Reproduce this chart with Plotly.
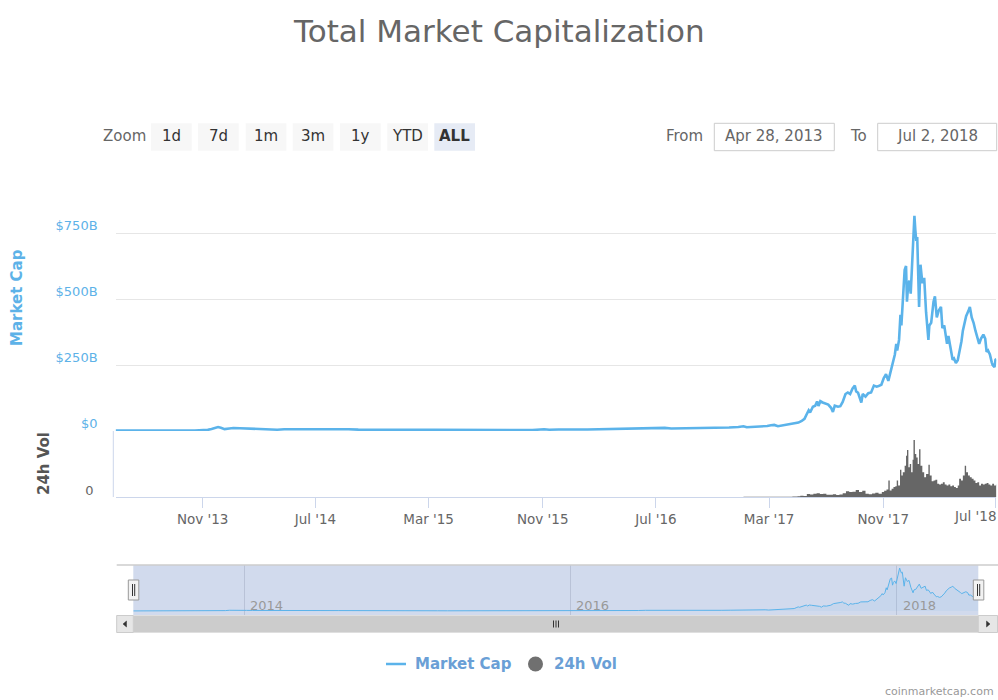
import plotly.graph_objects as go

W, H = 998, 700
FONT = "DejaVu Sans"
BLUE = "#5bb3ea"
BLUE_TXT = "#5db2e8"
GRAY = "#666666"
LEGEND_TXT = "#6a9fd6"


def px(x):
    return x / W


def py(y):
    return 1 - y / H


# ---------------- data ----------------
mcap_dates = [
    "2013-04-28", "2013-05-15", "2013-06-01", "2013-06-20", "2013-07-05", "2013-07-25",
    "2013-08-15", "2013-09-05", "2013-09-25", "2013-10-15", "2013-11-01", "2013-11-12",
    "2013-11-20", "2013-11-29", "2013-12-04", "2013-12-10", "2013-12-18", "2013-12-28",
    "2014-01-06", "2014-01-20", "2014-02-05", "2014-02-25", "2014-03-10", "2014-03-28",
    "2014-04-10", "2014-04-25", "2014-05-15", "2014-06-03", "2014-06-20", "2014-07-10",
    "2014-08-01", "2014-08-20", "2014-09-10", "2014-10-01", "2014-10-20", "2014-11-10",
    "2014-11-25", "2014-12-15", "2015-01-01", "2015-01-15", "2015-02-01", "2015-02-20",
    "2015-03-10", "2015-04-01", "2015-04-20", "2015-05-15", "2015-06-10", "2015-07-10",
    "2015-08-01", "2015-08-25", "2015-09-15", "2015-10-10", "2015-11-04", "2015-11-15",
    "2015-12-05", "2015-12-25", "2016-01-15", "2016-02-05", "2016-02-25", "2016-03-15",
    "2016-04-05", "2016-04-25", "2016-05-15", "2016-06-01", "2016-06-17", "2016-07-01",
    "2016-07-20", "2016-08-03", "2016-08-25", "2016-09-15", "2016-10-05", "2016-10-25",
    "2016-11-15", "2016-12-05", "2016-12-25", "2017-01-05", "2017-01-12", "2017-01-25",
    "2017-02-10", "2017-02-25", "2017-03-05", "2017-03-12", "2017-03-20", "2017-03-28",
    "2017-04-05", "2017-04-15", "2017-04-25", "2017-05-03", "2017-05-10", "2017-05-16",
    "2017-05-22", "2017-05-25", "2017-05-28", "2017-06-03", "2017-06-08", "2017-06-12",
    "2017-06-15", "2017-06-19", "2017-06-24", "2017-06-30", "2017-07-06", "2017-07-12",
    "2017-07-16", "2017-07-20", "2017-07-27", "2017-08-01", "2017-08-06", "2017-08-12",
    "2017-08-17", "2017-08-22", "2017-08-27", "2017-09-01", "2017-09-04", "2017-09-08",
    "2017-09-15", "2017-09-18", "2017-09-24", "2017-09-30", "2017-10-06", "2017-10-12",
    "2017-10-18", "2017-10-22", "2017-10-28", "2017-11-02", "2017-11-07", "2017-11-12",
    "2017-11-17", "2017-11-22", "2017-11-26", "2017-11-29", "2017-12-01", "2017-12-05",
    "2017-12-08", "2017-12-10", "2017-12-13", "2017-12-17", "2017-12-20", "2017-12-22",
    "2017-12-24", "2017-12-27", "2017-12-30", "2018-01-03", "2018-01-07", "2018-01-09",
    "2018-01-11", "2018-01-13", "2018-01-17", "2018-01-20", "2018-01-24", "2018-01-28",
    "2018-02-01", "2018-02-06", "2018-02-08", "2018-02-12", "2018-02-17", "2018-02-20",
    "2018-02-24", "2018-02-28", "2018-03-05", "2018-03-08", "2018-03-12", "2018-03-18",
    "2018-03-21", "2018-03-25", "2018-03-30", "2018-04-02", "2018-04-06", "2018-04-10",
    "2018-04-14", "2018-04-18", "2018-04-21", "2018-04-25", "2018-04-28", "2018-05-03",
    "2018-05-06", "2018-05-10", "2018-05-14", "2018-05-18", "2018-05-23", "2018-05-26",
    "2018-05-30", "2018-06-04", "2018-06-08", "2018-06-11", "2018-06-14", "2018-06-18",
    "2018-06-22", "2018-06-24", "2018-06-28", "2018-06-30", "2018-07-02",
]
mcap_values = [
    1.6, 1.3, 1.4, 1.3, 0.9, 1.1,
    1.3, 1.5, 1.6, 2.0, 2.6, 4.3,
    7.5, 13.5, 15.0, 12.5, 7.0, 9.5,
    11.5, 10.5, 9.0, 7.0, 8.5, 6.5,
    5.0, 6.5, 6.5, 8.6, 8.0, 8.3,
    8.0, 6.5, 6.6, 5.3, 5.3, 5.0,
    5.4, 4.7, 4.4, 3.0, 3.2, 3.5,
    4.2, 3.7, 3.3, 3.5, 3.4, 4.5,
    4.3, 3.4, 3.5, 3.7, 6.7, 5.0,
    5.6, 6.9, 5.9, 5.9, 6.9, 7.7,
    7.3, 8.0, 8.8, 9.4, 12.8, 11.7,
    11.7, 9.7, 10.0, 10.3, 10.8, 11.7,
    12.1, 13.1, 15.0, 17.7, 14.0, 15.2,
    16.7, 19.0, 22.0, 23.0, 18.0, 20.5,
    22.7, 24.5, 28.0, 32.0, 38.0, 46.0,
    68.0, 78.0, 70.0, 92.0, 96.0, 112.0,
    95.0, 113.0, 108.0, 104.0, 100.0, 88.0,
    72.0, 96.0, 92.0, 94.0, 110.0, 140.0,
    146.0, 140.0, 160.0, 172.0, 150.0, 145.0,
    108.0, 140.0, 130.0, 143.0, 146.0, 172.0,
    168.0, 170.0, 175.0, 200.0, 215.0, 190.0,
    225.0, 260.0, 290.0, 330.0, 305.0, 345.0,
    440.0, 400.0, 510.0, 610.0, 625.0, 490.0,
    540.0, 570.0, 520.0, 690.0, 815.0, 760.0,
    720.0, 735.0, 470.0, 630.0, 560.0, 580.0,
    450.0, 345.0, 400.0, 410.0, 490.0, 510.0,
    430.0, 455.0, 470.0, 390.0, 400.0, 330.0,
    360.0, 320.0, 270.0, 275.0, 258.0, 268.0,
    300.0, 340.0, 380.0, 420.0, 435.0, 455.0,
    470.0, 430.0, 410.0, 380.0, 350.0, 330.0,
    350.0, 365.0, 350.0, 300.0, 305.0, 290.0,
    260.0, 250.0, 242.0, 270.0, 272.0,
]

vol_dates = [
    "2013-12-27", "2014-03-01", "2014-06-01", "2014-09-01", "2014-12-01", "2015-03-01",
    "2015-06-01", "2015-09-01", "2015-12-01", "2016-03-01", "2016-06-01", "2016-09-01",
    "2016-12-01", "2017-01-05", "2017-02-01", "2017-03-01", "2017-04-01", "2017-04-20",
    "2017-05-01", "2017-05-07", "2017-05-14", "2017-05-21", "2017-05-28", "2017-06-04",
    "2017-06-11", "2017-06-18", "2017-06-25", "2017-07-02", "2017-07-09", "2017-07-16",
    "2017-07-23", "2017-07-30", "2017-08-06", "2017-08-13", "2017-08-20", "2017-08-27",
    "2017-09-03", "2017-09-10", "2017-09-17", "2017-09-24", "2017-10-01", "2017-10-08",
    "2017-10-15", "2017-10-22", "2017-10-29", "2017-11-03", "2017-11-08", "2017-11-12",
    "2017-11-15", "2017-11-19", "2017-11-23", "2017-11-27", "2017-11-30", "2017-12-03",
    "2017-12-07", "2017-12-10", "2017-12-13", "2017-12-17", "2017-12-20", "2017-12-22",
    "2017-12-25", "2017-12-28", "2017-12-31", "2018-01-03", "2018-01-05", "2018-01-08",
    "2018-01-11", "2018-01-14", "2018-01-17", "2018-01-20", "2018-01-24", "2018-01-28",
    "2018-02-01", "2018-02-06", "2018-02-09", "2018-02-13", "2018-02-17", "2018-02-21",
    "2018-02-25", "2018-03-01", "2018-03-05", "2018-03-09", "2018-03-13", "2018-03-17",
    "2018-03-21", "2018-03-25", "2018-03-29", "2018-04-02", "2018-04-06", "2018-04-10",
    "2018-04-13", "2018-04-17", "2018-04-21", "2018-04-25", "2018-04-28", "2018-05-02",
    "2018-05-06", "2018-05-10", "2018-05-14", "2018-05-18", "2018-05-22", "2018-05-26",
    "2018-05-30", "2018-06-03", "2018-06-07", "2018-06-11", "2018-06-15", "2018-06-19",
    "2018-06-23", "2018-06-27", "2018-07-01", "2018-07-02",
]
vol_values = [
    0.06, 0.04, 0.03, 0.03, 0.02, 0.03,
    0.03, 0.03, 0.06, 0.06, 0.15, 0.09,
    0.10, 0.40, 0.20, 0.30, 0.40, 0.70,
    0.90, 1.5, 1.2, 3.5, 3.0, 3.8,
    4.5, 3.6, 3.8, 2.8, 2.6, 3.4,
    2.5, 3.0, 4.5, 7.0, 6.0, 6.5,
    8.5, 6.0, 7.5, 4.0, 3.2, 4.2,
    5.0, 4.0, 6.0, 7.5, 9.0, 20.0,
    8.0, 10.0, 12.0, 13.0, 20.0, 14.0,
    33.0, 26.0, 30.0, 38.0, 50.0, 57.0,
    36.0, 40.0, 30.0, 45.0, 69.0, 52.0,
    48.0, 40.0, 58.0, 38.0, 30.0, 24.0,
    28.0, 39.0, 26.0, 19.0, 20.0, 21.0,
    16.0, 15.0, 16.0, 18.0, 15.0, 14.0,
    15.0, 13.0, 14.0, 12.0, 11.0, 14.0,
    22.0, 20.0, 26.0, 38.0, 30.0, 26.0,
    24.0, 22.0, 20.0, 17.0, 18.0, 14.0,
    16.0, 15.0, 16.0, 17.0, 15.0, 14.0,
    16.0, 14.0, 15.0, 15.0,
]

tick_dates = ["2013-11-01", "2014-07-01", "2015-03-01", "2015-11-01",
              "2016-07-01", "2017-03-01", "2017-11-01", "2018-07-01"]
tick_labels = ["Nov '13", "Jul '14", "Mar '15", "Nov '15",
               "Jul '16", "Mar '17", "Nov '17", "Jul '18"]
mcap_ticks = [0, 250, 500, 750, 1000]
mcap_tick_labels = ["$0", "$250B", "$500B", "$750B", ""]
nav_years = ["2014-01-01", "2016-01-01", "2018-01-01"]
nav_labels = ["2014", "2016", "2018"]
zoom_buttons = ["1d", "7d", "1m", "3m", "1y", "YTD", "ALL"]
range_from = "Apr 28, 2013"
range_to = "Jul 2, 2018"
x_start, x_end = "2013-04-28", "2018-07-02"

# ---------------- figure ----------------
fig = go.Figure()

fig.add_trace(go.Scatter(
    x=mcap_dates, y=mcap_values, xaxis="x", yaxis="y", mode="lines",
    line=dict(color=BLUE, width=2.6), name="Market Cap", hoverinfo="skip"))

fig.add_trace(go.Scatter(
    x=vol_dates, y=vol_values, xaxis="x2", yaxis="y2", mode="lines",
    line=dict(color=GRAY, width=0, shape="hv"), fill="tozeroy", fillcolor=GRAY,
    name="24h Vol", hoverinfo="skip"))

fig.add_trace(go.Scatter(
    x=mcap_dates, y=mcap_values, xaxis="x3", yaxis="y3", mode="lines",
    line=dict(color=BLUE, width=1), fill="tozeroy", fillcolor="rgba(91,179,234,0.08)",
    hoverinfo="skip"))

shapes = []
annotations = []


def rect(x0, y0, x1, y1, fill, line_color=None, width=1, layer="above"):
    shapes.append(dict(type="rect", xref="paper", yref="paper",
                       x0=px(x0), x1=px(x1), y0=py(y1), y1=py(y0),
                       fillcolor=fill, layer=layer,
                       line=dict(color=line_color or fill, width=width if line_color else 0)))


def hline(x0, x1, y, color, width=1):
    shapes.append(dict(type="line", xref="paper", yref="paper",
                       x0=px(x0), x1=px(x1), y0=py(y), y1=py(y),
                       line=dict(color=color, width=width)))


def vline(x, y0, y1, color, width=1):
    shapes.append(dict(type="line", xref="paper", yref="paper",
                       x0=px(x), x1=px(x), y0=py(y0), y1=py(y1),
                       line=dict(color=color, width=width)))


def text(x, y, s, size=13, color=GRAY, bold=False, anchor="center", angle=0):
    annotations.append(dict(
        xref="paper", yref="paper", x=px(x), y=py(y), text=f"<b>{s}</b>" if bold else s,
        showarrow=False, xanchor=anchor, yanchor="middle", textangle=angle,
        font=dict(family=FONT, size=size, color=color)))


# title
text(499, 31, "Total Market Capitalization", size=31, color="#666666")

# range selector
text(125, 136, "Zoom", size=15, color="#666666")
btn_x0 = [151, 198, 245.7, 292.7, 340, 387.3, 434.3]
for i, lab in enumerate(zoom_buttons):
    x0 = btn_x0[i]
    sel = lab == "ALL"
    rect(x0, 123.3, x0 + 40.7, 150.7, "#e6ebf5" if sel else "#f7f7f7")
    text(x0 + 20.35, 136, lab, size=15, color="#333333", bold=sel)

text(684, 136, "From", size=15, color="#666666")
rect(714.3, 123.3, 834.3, 150.7, "#ffffff", "#cccccc")
text(774.3, 136, range_from, size=15, color="#666666")
text(858, 136, "To", size=15, color="#666666")
rect(877.7, 123.3, 996.7, 150.7, "#ffffff", "#cccccc")
text(937, 136, range_to, size=15, color="#666666")

# axis titles
text(17, 298, "Market Cap", size=15, color=BLUE_TXT, bold=True, angle=-90)
text(44, 464, "24h Vol", size=15, color="#555555", bold=True, angle=-90)

# volume y-axis line (offset left of plot)
vline(113.3, 431, 497, "#ccd6eb")

# last x label justified inside chart
annotations.append(dict(xref="x2", yref="paper", x=tick_dates[-1], y=py(516),
                        text=tick_labels[-1], showarrow=False, xanchor="right",
                        yanchor="middle", xshift=2,
                        font=dict(family=FONT, size=13.5, color="#666666")))
shown_tick_labels = tick_labels[:-1] + [""]

# navigator
rect(133.3, 565, 978.3, 615, "rgba(102,133,194,0.3)", layer="below")
hline(116.7, 998, 565, "#cccccc", 1.5)
for d, lab in zip(nav_years, nav_labels):
    annotations.append(dict(xref="x3", yref="paper", x=d, y=py(605.5), text=lab,
                            showarrow=False, xanchor="left", yanchor="middle", xshift=4,
                            font=dict(family=FONT, size=13, color="#999999")))

# scrollbar
rect(116.7, 615, 998, 633, "#f2f2f2")
rect(133.3, 615.5, 978.3, 632.5, "#cccccc")
rect(116.7, 615.5, 133.3, 632.5, "#e6e6e6", "#cccccc")
rect(978.3, 615.5, 997.5, 632.5, "#e6e6e6", "#cccccc")


def tri(pts, color="#333333"):
    path = "M " + " L ".join(f"{px(a)} {py(b)}" for a, b in pts) + " Z"
    shapes.append(dict(type="path", xref="paper", yref="paper", path=path,
                       fillcolor=color, line=dict(color=color, width=0.5)))


tri([(123, 624), (126.5, 621), (126.5, 627)])
tri([(990, 624), (986.5, 621), (986.5, 627)])
for xx in (553.5, 556, 558.5):
    vline(xx, 620.5, 627.5, "#333333", 1)

# navigator handles
for hx in (128.3, 973.3):
    rect(hx, 580, hx + 10.5, 600, "#f2f2f2", "#999999", 1)
    vline(hx + 4.2, 584, 596, "#333333", 1)
    vline(hx + 6.4, 584, 596, "#333333", 1)

# legend
hline(386, 406, 664, BLUE, 2.5)
text(413, 664, "Market Cap", size=15, color=LEGEND_TXT, bold=True, anchor="left")
shapes.append(dict(type="circle", xref="paper", yref="paper",
                   x0=px(528), x1=px(543), y0=py(671.5), y1=py(656.5),
                   fillcolor="#707070", line=dict(color="#707070", width=0)))
text(552, 664, "24h Vol", size=15, color=LEGEND_TXT, bold=True, anchor="left")

# credits
text(996, 691, "coinmarketcap.com", size=11, color="#999999", anchor="right")

x_dom = [px(115.6), px(996.4)]

fig.update_layout(
    width=W, height=H,
    margin=dict(l=0, r=0, t=0, b=0, autoexpand=False),
    paper_bgcolor="white", plot_bgcolor="white",
    showlegend=False,
    font=dict(family=FONT),
    shapes=shapes, annotations=annotations,
    xaxis=dict(domain=x_dom, anchor="y", range=[x_start, x_end], showticklabels=False,
               showgrid=False, zeroline=False, showline=False, ticks=""),
    yaxis=dict(domain=[py(431), py(167)], anchor="x", range=[0, 1000],
               tickvals=mcap_ticks, ticktext=mcap_tick_labels,
               showgrid=True, gridcolor="#e6e6e6", gridwidth=1,
               zeroline=False, showline=False, ticks="",
               ticklabelshift=-8, ticklabelstandoff=17,
               tickfont=dict(family=FONT, size=13, color=BLUE_TXT)),
    xaxis2=dict(domain=x_dom, anchor="y2", range=[x_start, x_end],
                tickvals=tick_dates, ticktext=shown_tick_labels,
                ticks="outside", ticklen=10, tickcolor="#ccd6eb", tickwidth=1,
                showline=True, linecolor="#ccd6eb", linewidth=1,
                showgrid=False, zeroline=False,
                tickfont=dict(family=FONT, size=13.5, color="#666666")),
    yaxis2=dict(domain=[py(497), py(431)], anchor="x2", range=[0, 80],
                tickvals=[0], ticktext=["0"], showgrid=False, zeroline=False,
                showline=False, ticks="", ticklabelshift=-7, ticklabelstandoff=21,
                tickfont=dict(family=FONT, size=13, color="#666666")),
    xaxis3=dict(domain=[px(133.3), px(978.3)], anchor="y3", range=[x_start, x_end],
                tickvals=nav_years, showticklabels=False, ticks="",
                showgrid=True, gridcolor="rgba(140,150,175,0.35)", gridwidth=1,
                zeroline=False, showline=False),
    yaxis3=dict(domain=[py(615), py(565)], anchor="x3", range=[-76, 872],
                visible=False, showgrid=False, zeroline=False),
)

fig.write_html(
    "out.html",
    config={"displayModeBar": False},
    post_script="document.body.style.margin='0px';document.body.style.overflow='hidden';",
)
